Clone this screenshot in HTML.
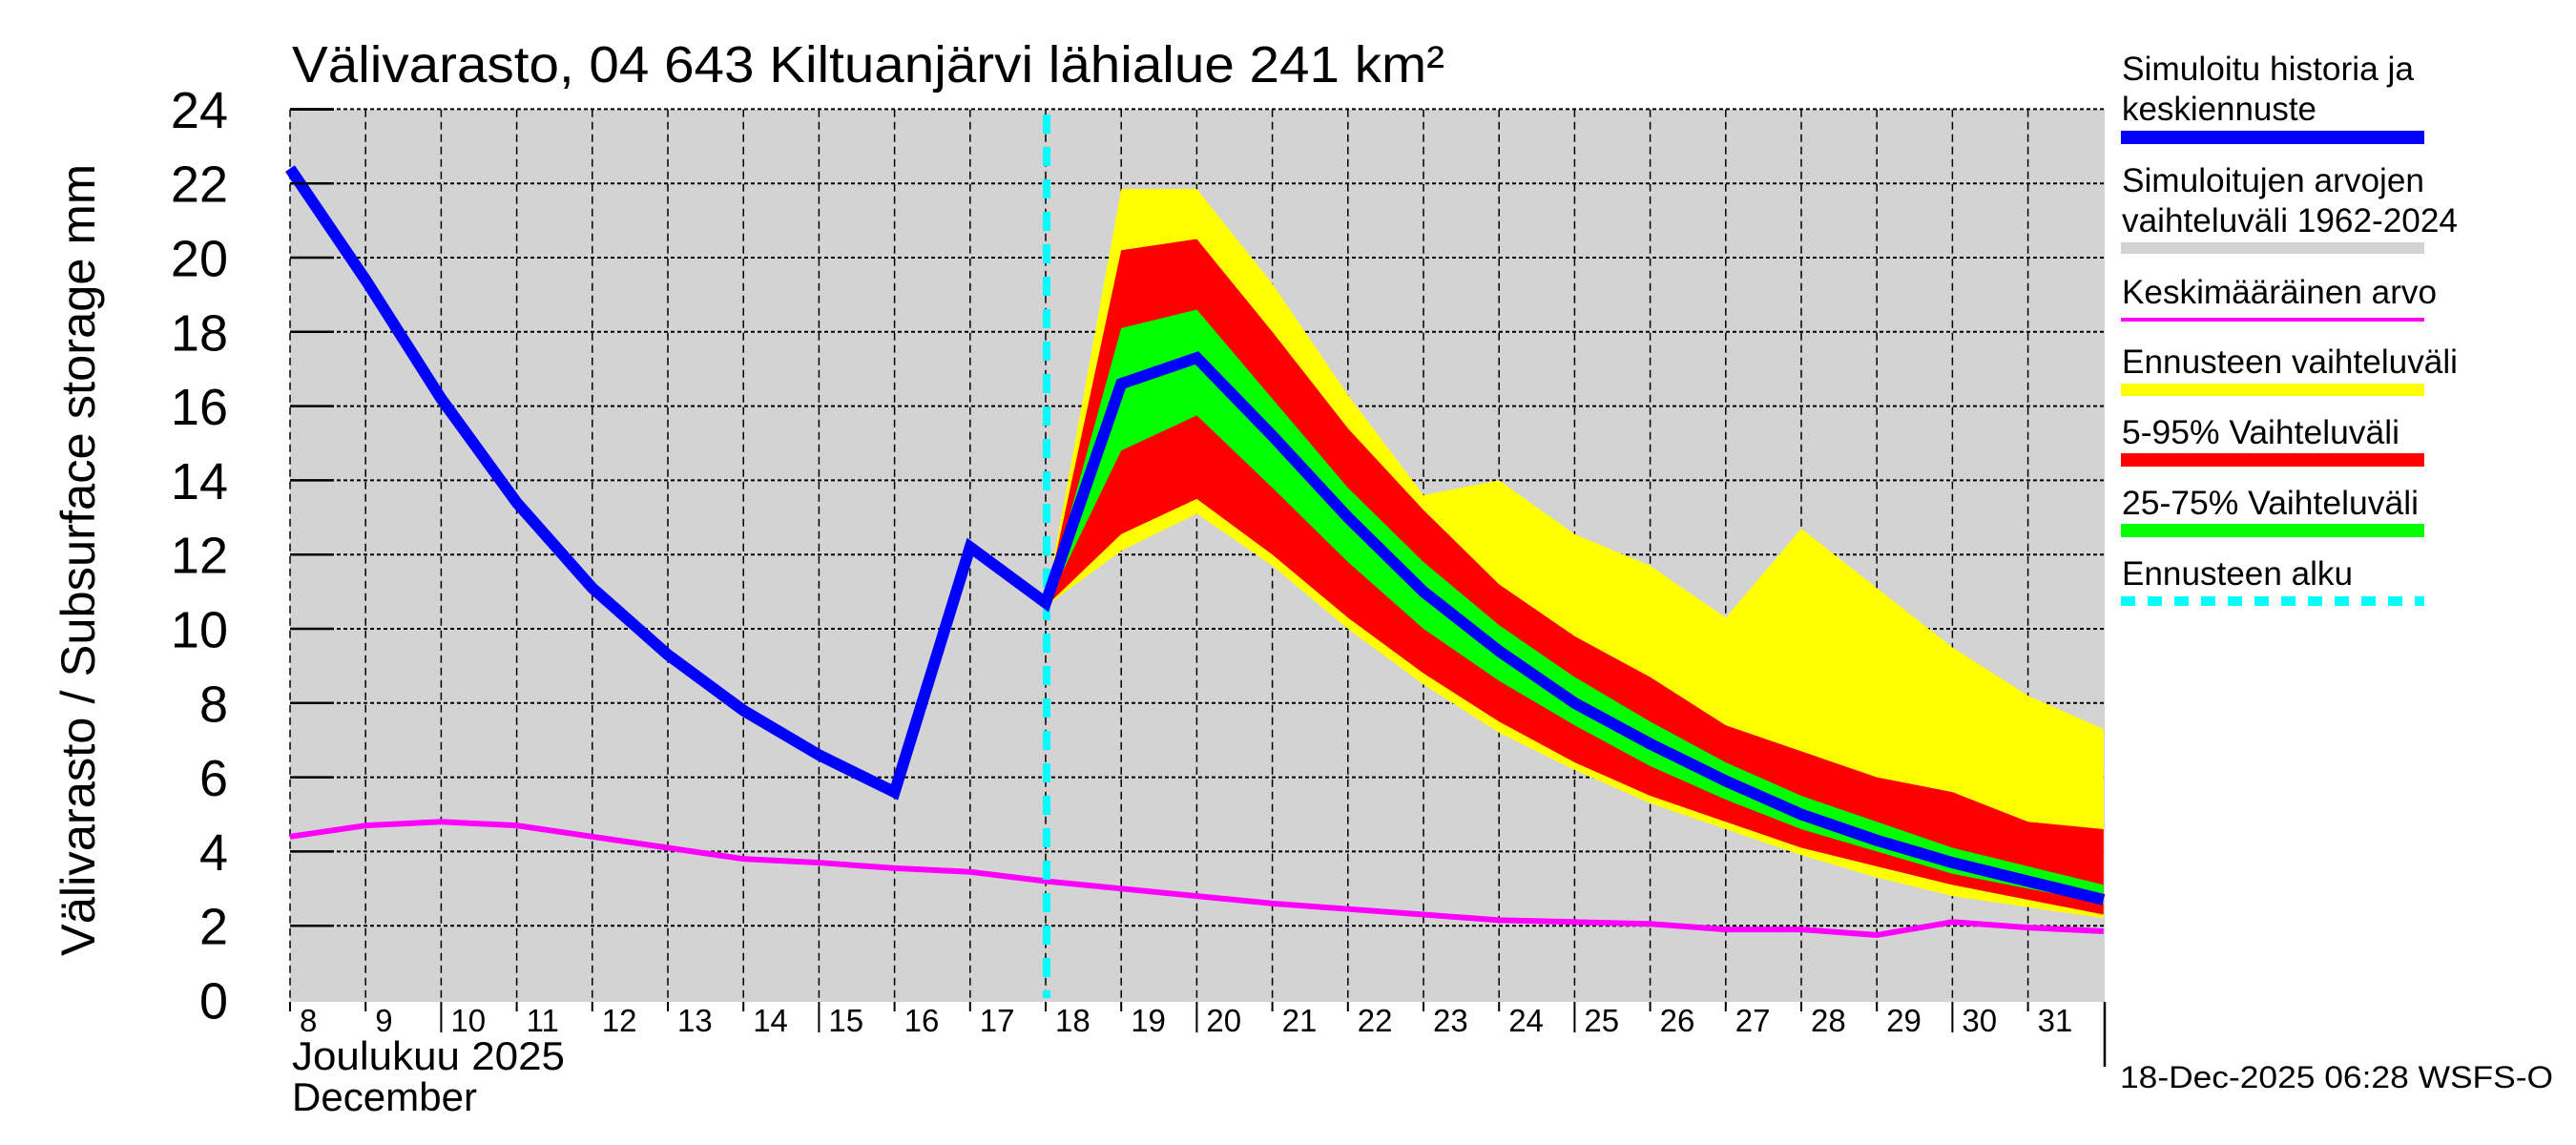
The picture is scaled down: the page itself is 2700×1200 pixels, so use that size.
<!DOCTYPE html>
<html><head><meta charset="utf-8"><style>
html,body{margin:0;padding:0;background:#fff;}
svg{display:block;font-family:"Liberation Sans",sans-serif;}
</style></head><body>
<svg id="chart" width="2700" height="1200" viewBox="0 0 2700 1200" xmlns="http://www.w3.org/2000/svg">
<rect x="304" y="114.7" width="1902" height="935.3" fill="#d3d3d3"/>
<g id="grid"></g>
<g id="bands"></g>
<g id="lines"></g>
<g id="axes"></g>
<text x="306" y="86" font-size="54" textLength="1208" lengthAdjust="spacingAndGlyphs">Välivarasto, 04 643 Kiltuanjärvi lähialue 241 km²</text>
<text transform="translate(99,1002) rotate(-90)" font-size="50" textLength="830" lengthAdjust="spacingAndGlyphs">Välivarasto / Subsurface storage  mm</text>
<text x="306" y="1121" font-size="42" textLength="286" lengthAdjust="spacingAndGlyphs">Joulukuu  2025</text>
<text x="306" y="1164" font-size="42" textLength="194" lengthAdjust="spacingAndGlyphs">December</text>
<text x="2222" y="1140" font-size="32" textLength="454" lengthAdjust="spacingAndGlyphs">18-Dec-2025 06:28 WSFS-O</text>
<g font-size="35">
<text x="2224" y="84" textLength="306" lengthAdjust="spacingAndGlyphs">Simuloitu historia ja</text>
<text x="2224" y="126" textLength="204" lengthAdjust="spacingAndGlyphs">keskiennuste</text>
<rect x="2223" y="137" width="318" height="14" fill="#0000ff"/>
<text x="2224" y="201" textLength="317" lengthAdjust="spacingAndGlyphs">Simuloitujen arvojen</text>
<text x="2224" y="243" textLength="352" lengthAdjust="spacingAndGlyphs">vaihteluväli 1962-2024</text>
<rect x="2223" y="254" width="318" height="12" fill="#d3d3d3"/>
<text x="2224" y="318" textLength="330" lengthAdjust="spacingAndGlyphs">Keskimääräinen arvo</text>
<rect x="2223" y="333" width="318" height="4" fill="#ff00ff"/>
<text x="2224" y="391" textLength="352" lengthAdjust="spacingAndGlyphs">Ennusteen vaihteluväli</text>
<rect x="2223" y="402" width="318" height="13" fill="#ffff00"/>
<text x="2224" y="465" textLength="291" lengthAdjust="spacingAndGlyphs">5-95% Vaihteluväli</text>
<rect x="2223" y="475" width="318" height="14" fill="#ff0000"/>
<text x="2224" y="539" textLength="311" lengthAdjust="spacingAndGlyphs">25-75% Vaihteluväli</text>
<rect x="2223" y="549" width="318" height="14" fill="#00ff00"/>
<text x="2224" y="613" textLength="242" lengthAdjust="spacingAndGlyphs">Ennusteen alku</text>
<line x1="2223" y1="630" x2="2541" y2="630" stroke="#00ffff" stroke-width="10" stroke-dasharray="15 13"/>
</g>
</svg>
<script>
const days = [8,9,10,11,12,13,14,15,16,17,18,19,20,21,22,23,24,25,26,27,28,29,30,31,32];
const simulated = [22.4,19.4,16.2,13.4,11.1,9.3,7.8,6.6,5.6,12.2,10.7,16.6,17.3,15.2,13.0,11.0,9.4,8.0,6.9,5.9,5.0,4.3,3.7,3.2,2.7];
const meanValues = [4.4,4.7,4.8,4.7,4.4,4.1,3.8,3.7,3.55,3.45,3.2,3.0,2.8,2.6,2.45,2.3,2.15,2.1,2.05,1.9,1.9,1.75,2.1,1.95,1.85];
const fcDays = [18,19,20,21,22,23,24,25,26,27,28,29,30,31,32];
const yellowHigh = [10.7,21.85,21.85,19.3,16.3,13.6,14.0,12.55,11.7,10.3,12.7,11.1,9.5,8.2,7.3];
const yellowLow = [10.6,12.1,13.1,11.7,10.0,8.5,7.2,6.2,5.3,4.6,3.9,3.3,2.8,2.5,2.2];
const redHigh = [10.7,20.2,20.5,18.0,15.4,13.2,11.2,9.8,8.7,7.4,6.7,6.0,5.6,4.8,4.6];
const redLow = [10.6,12.55,13.5,12.0,10.3,8.8,7.5,6.4,5.5,4.8,4.1,3.6,3.1,2.7,2.3];
const greenHigh = [10.7,18.1,18.6,16.2,13.8,11.8,10.1,8.7,7.5,6.4,5.5,4.8,4.1,3.6,3.1];
const greenLow = [10.6,14.8,15.75,13.8,11.8,10.0,8.6,7.4,6.3,5.4,4.6,4.0,3.4,3.0,2.6];
const yTicks = [0,2,4,6,8,10,12,14,16,18,20,22,24];
const xTickDays = [8,9,10,11,12,13,14,15,16,17,18,19,20,21,22,23,24,25,26,27,28,29,30,31];
const forecastStart = 18;

const NS = "http://www.w3.org/2000/svg";
const X0 = 304, DX = 79.2, Y0 = 1048, DY = 38.9;
function xs(d){ return X0 + (d - 8) * DX; }
function ys(v){ return Y0 - v * DY; }
function mk(tag, attrs, parent){
  const e = document.createElementNS(NS, tag);
  for (const k in attrs) e.setAttribute(k, attrs[k]);
  parent.appendChild(e);
  return e;
}
const grid = document.getElementById('grid');
const bands = document.getElementById('bands');
const lines = document.getElementById('lines');
const axes = document.getElementById('axes');

yTicks.forEach(v => {
  const y = ys(v);
  if (v > 0) {
    const g = mk('line', {x1: X0, y1: y, x2: 2206, y2: y, stroke: '#000', 'stroke-width': 2, 'stroke-dasharray': '4 3'}, grid);
    
    
    const t = mk('line', {x1: X0, y1: y, x2: 350, y2: y, stroke: '#000', 'stroke-width': 2.5}, axes);
    
    
  }
  const lb = mk('text', {x: 239, y: y + 19.5, 'font-size': 54, 'text-anchor': 'end'}, axes);
  lb.textContent = v;
  
  
});

xTickDays.forEach(d => {
  const x = xs(d);
  const g = mk('line', {x1: x, y1: 114.7, x2: x, y2: 1050, stroke: '#000', 'stroke-width': 1.5, 'stroke-dasharray': '8 5'}, grid);
  
  
  const tk = mk('line', {x1: x, y1: 1050, x2: x, y2: (d % 5 === 0) ? 1082 : 1060, stroke: '#000', 'stroke-width': 2}, axes);
  
  
  const lb = mk('text', {x: x + 10, y: 1081, 'font-size': 33}, axes);
  lb.textContent = d;
  
  
});
const rax = mk('line', {x1: 2206, y1: 1050, x2: 2206, y2: 1118, stroke: '#000', 'stroke-width': 2.5}, axes);


const topTick = mk('line', {x1: X0, y1: 114.7, x2: 350, y2: 114.7, stroke: '#000', 'stroke-width': 2.5}, axes);



function band(hi, lo, color, name){
  let pts = fcDays.map((d,i) => xs(d) + ',' + ys(hi[i]));
  for (let i = fcDays.length - 1; i >= 0; i--) pts.push(xs(fcDays[i]) + ',' + ys(lo[i]));
  const p = mk('polygon', {points: pts.join(' '), fill: color}, bands);
  
  
}
band(yellowHigh, yellowLow, '#ffff00', 'forecast-range-band');
band(redHigh, redLow, '#ff0000', 'band-5-95');
band(greenHigh, greenLow, '#00ff00', 'band-25-75');

const meanLine = mk('polyline', {points: days.map((d,i) => xs(d) + ',' + ys(meanValues[i])).join(' '), fill: 'none', stroke: '#ff00ff', 'stroke-width': 6}, lines);



const fx = xs(forecastStart) + 1;
const cyan = mk('line', {x1: fx, y1: 120, x2: fx, y2: 1046, stroke: '#00ffff', 'stroke-width': 8, 'stroke-dasharray': '20 14'}, lines);



const simLine = mk('polyline', {points: days.map((d,i) => xs(d) + ',' + ys(simulated[i])).join(' '), fill: 'none', stroke: '#0000ff', 'stroke-width': 12, 'stroke-linejoin': 'miter'}, lines);


</script>
</body></html>
